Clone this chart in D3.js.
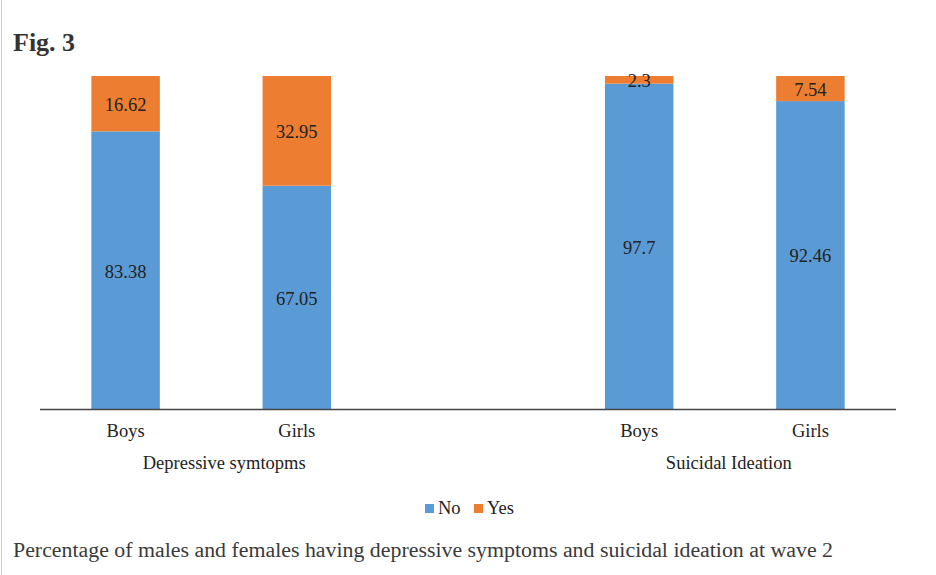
<!DOCTYPE html>
<html><head><meta charset="utf-8">
<script src="https://cdn.jsdelivr.net/npm/d3@7"></script>
<style>html,body{margin:0;background:#fff;font-family:'Liberation Serif'}svg{display:block}
svg text{font-family:'Liberation Serif'}
</style>
</head><body>
<svg id="chart" width="936" height="575" font-family="Liberation Serif"></svg>
<script>
const categories = ["Boys", "Girls", "", "Boys", "Girls"];
const groups = ["Depressive symtopms", "Suicidal Ideation"];
const seriesNames = ["No", "Yes"];
const noValues = [83.38, 67.05, null, 97.7, 92.46];
const yesValues = [16.62, 32.95, null, 2.3, 7.54];
const colors = ["#5B9BD5", "#ED7D31"];

const W = 936, H = 575;
const svg = d3.select("#chart");
svg.append("rect").attr("width", W).attr("height", H).attr("fill", "#fff");
svg.append("line").attr("x1", 1.5).attr("x2", 1.5).attr("y1", 0).attr("y2", H).attr("stroke", "#d0d0d0").attr("stroke-width", 1);

const FF = "Liberation Serif";
svg.append("text").attr("x", 13).attr("y", 51).text("Fig. 3").attr("font-family", FF)
  .attr("font-weight", "bold").attr("font-size", 26).attr("fill", "#333");

const x = d3.scaleBand().domain(d3.range(categories.length)).range([40, 896]).paddingInner(0.6).paddingOuter(0.3);
const y = d3.scaleLinear().domain([0, 100]).range([409, 76]);

const rows = categories.map((c, i) => ({i, c, no: noValues[i], yes: yesValues[i]})).filter(d => d.no != null);
const stack = d3.stack().keys(["no", "yes"])(rows);

const FS = 18.5;
stack.forEach((layer, k) => {
  svg.append("g").selectAll("rect").data(layer).join("rect")
    .attr("x", d => x(d.data.i)).attr("width", x.bandwidth())
    .attr("y", d => y(d[1])).attr("height", d => y(d[0]) - y(d[1]))
    .attr("fill", colors[k]);
  svg.append("g").selectAll("text").data(layer).join("text")
    .attr("x", d => x(d.data.i) + x.bandwidth() / 2)
    .attr("y", d => (y(d[0]) + y(d[1])) / 2)
    .attr("dy", "0.4em").attr("text-anchor", "middle")
    .attr("font-family", FF).attr("font-size", FS).attr("fill", "#222")
    .text(d => d.data[k === 0 ? "no" : "yes"]);
});

svg.append("line").attr("x1", 40).attr("x2", 896).attr("y1", y(0) + 0.5).attr("y2", y(0) + 0.5)
  .attr("stroke", "#444").attr("stroke-width", 1.5);

svg.append("g").selectAll("text").data(rows).join("text")
  .attr("x", d => x(d.i) + x.bandwidth() / 2).attr("y", 437)
  .attr("text-anchor", "middle").attr("font-family", FF).attr("font-size", FS).attr("fill", "#222")
  .text(d => d.c);

const groupIdx = [[0, 1], [3, 4]];
svg.append("g").selectAll("text").data(groups).join("text")
  .attr("x", (g, j) => (x(groupIdx[j][0]) + x(groupIdx[j][1]) + x.bandwidth()) / 2 + (j === 0 ? 13 : 4))
  .attr("y", 469).attr("text-anchor", "middle").attr("font-family", FF).attr("font-size", FS).attr("fill", "#222")
  .text(g => g);

const leg = svg.append("g");
const legX = [425, 474];
seriesNames.forEach((s, k) => {
  leg.append("rect").attr("x", legX[k]).attr("y", 504).attr("width", 9).attr("height", 9).attr("fill", colors[k]);
  leg.append("text").attr("x", legX[k] + 13).attr("y", 514).attr("font-family", FF).attr("font-size", FS).attr("fill", "#222").text(s);
});

svg.append("text").attr("x", 13).attr("y", 557).attr("font-family", FF)
  .attr("font-size", 20).attr("fill", "#3a3a3a")
  .attr("textLength", 820).attr("lengthAdjust", "spacingAndGlyphs")
  .text("Percentage of males and females having depressive symptoms and suicidal ideation at wave 2");
</script>
</body></html>
